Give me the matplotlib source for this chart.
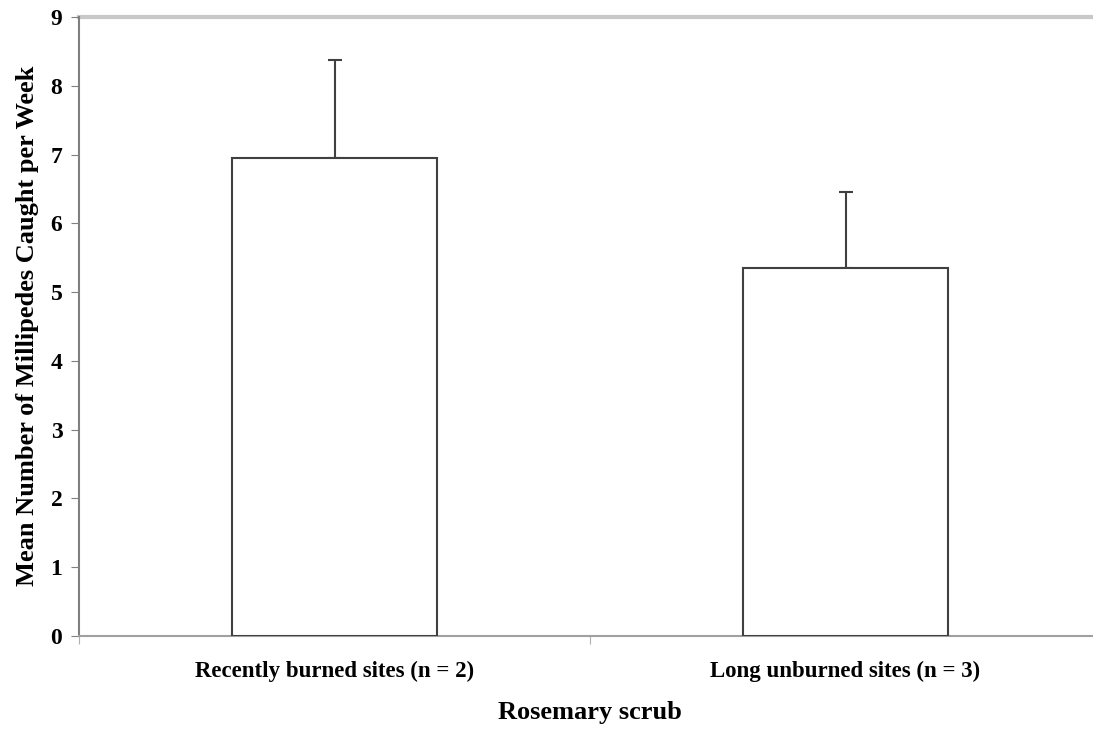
import matplotlib
matplotlib.use("Agg")
import matplotlib.pyplot as plt
import numpy as np

categories = ["Recently burned sites (n = 2)", "Long unburned sites (n = 3)"]
means = [6.95, 5.35]
errors = [1.42, 1.10]
yticks = list(range(0, 10))

plt.rcParams["font.family"] = "Liberation Serif"
plt.rcParams["font.weight"] = "bold"

fig = plt.figure(figsize=(10.93, 7.32), dpi=100)
W, H = 1093, 732
left, right, top, bottom = 79, 1101, 17, 636
ax = fig.add_axes([left / W, 1 - bottom / H, (right - left) / W, (bottom - top) / H])

x = np.arange(len(categories))
edge = "#404040"
ax.bar(x, means, width=0.4, color="white", edgecolor=edge, linewidth=1.5, zorder=3)
ax.errorbar(x, means, yerr=[np.zeros(len(errors)), errors], fmt="none",
            ecolor=edge, elinewidth=1.5, capsize=5, capthick=1.5, zorder=2)

ax.set_xlim(-0.5, 1.5)
ax.set_ylim(0, 9)
ax.set_yticks(yticks)
ax.set_yticklabels([str(t) for t in yticks], fontsize=17, fontweight="bold")

ax.set_xticks([-0.5, 0.5, 1.5])
ax.set_xticklabels([])
ax.set_xticks(x, minor=True)
ax.set_xticklabels(categories, minor=True, fontsize=16.5, fontweight="bold")
ax.tick_params(axis="x", which="minor", length=0, pad=18)
ax.tick_params(axis="x", which="major", length=6, color="#b0b0b0", direction="out")
ax.tick_params(axis="y", length=6, color="#808080", direction="out", pad=6)

ax.grid(False)
ax.axhline(9, color="#c8c8c8", lw=3, zorder=1, clip_on=False)
ax.spines["top"].set_visible(False)
ax.spines["right"].set_visible(False)
ax.spines["left"].set_color("#808080")
ax.spines["left"].set_linewidth(1.5)
ax.spines["bottom"].set_color("#a0a0a0")
ax.spines["bottom"].set_linewidth(1.5)

fig.text(28 / W, 1 - 326 / H, "Mean Number of Millipedes Caught per Week",
         fontsize=19, fontweight="bold", rotation=90, ha="center", va="center")
fig.text(590 / W, 1 - 712 / H, "Rosemary scrub", fontsize=19, fontweight="bold",
         ha="center", va="center")

fig.savefig("out.png", dpi=100)
